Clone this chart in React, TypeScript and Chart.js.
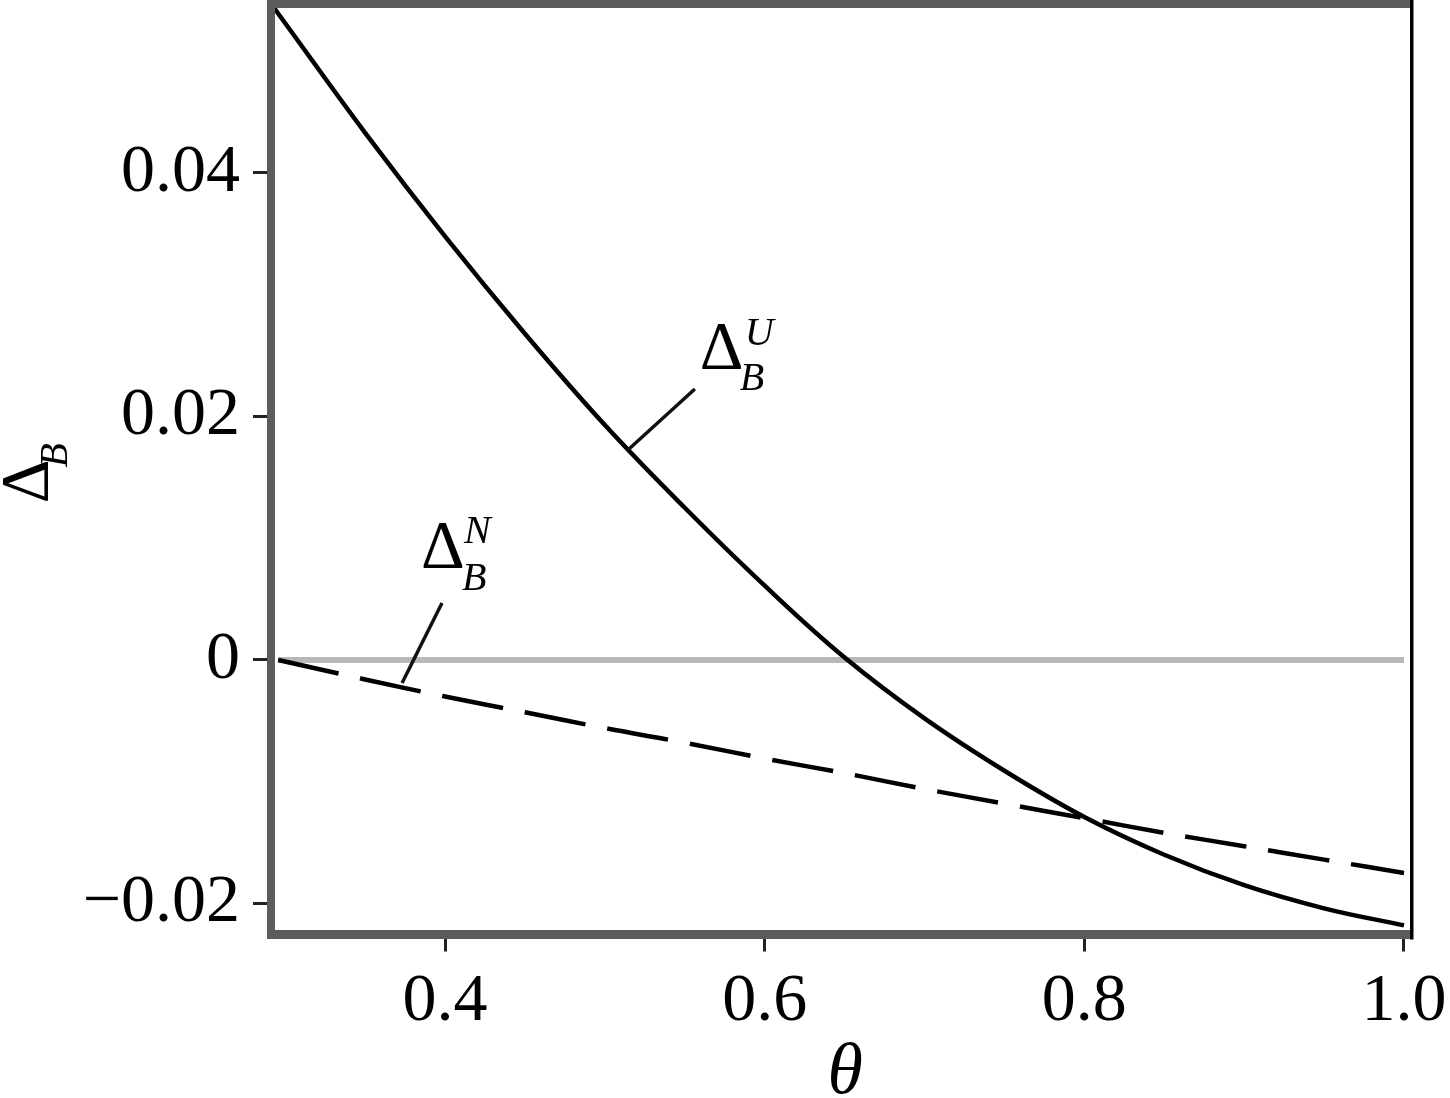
import React, { useEffect, useRef } from "react";
import { Chart, registerables } from "chart.js";
Chart.register(...registerables);

// Solid curve Δ_B^U
const thetaU = [0.2911, 0.3, 0.35, 0.4, 0.45, 0.5, 0.55, 0.6, 0.65, 0.7, 0.75, 0.8, 0.85, 0.9, 0.95, 1.0];
const deltaU = [0.0539, 0.0523, 0.0433, 0.0348, 0.0268, 0.0193, 0.0125, 0.0061, 0.0002, -0.0048, -0.0091, -0.0129, -0.016, -0.0185, -0.0204, -0.0218];
// Dashed curve Δ_B^N
const thetaN = [0.2956, 0.35, 0.4, 0.45, 0.5, 0.55, 0.6, 0.65, 0.7, 0.75, 0.8, 0.85, 0.9, 0.95, 1.0];
const deltaN = [0, -0.0016, -0.003, -0.0043, -0.0056, -0.0068, -0.0081, -0.0093, -0.0106, -0.0118, -0.013, -0.0142, -0.0153, -0.0164, -0.0175];
// Zero reference line
const thetaZero = [0.2956, 1.0];
const deltaZero = [0, 0];

// Axis ticks
const xTickValues = [0.4, 0.6, 0.8, 1.0];
const xTickLabels = ["0.4", "0.6", "0.8", "1.0"];
const yTickValues = [-0.02, 0, 0.02, 0.04];
const yTickLabels = ["\u22120.02", "0", "0.02", "0.04"];

// Annotation leader lines (data coords: [start, end])
const leaderUTheta = [0.5144, 0.5563];
const leaderUDelta = [0.01725, 0.02226];
const leaderNTheta = [0.3731, 0.3981];
const leaderNDelta = [-0.00189, 0.00468];

const SERIF = "'Liberation Serif', 'DejaVu Serif', serif";

const zip = (xs: number[], ys: number[]) => xs.map((x, i) => ({ x, y: ys[i] }));

const decorPlugin = {
  id: "decor",
  afterDatasetsDraw(chart: any) {
    const ctx = chart.ctx as CanvasRenderingContext2D;
    const xs = chart.scales.x;
    const ys = chart.scales.y;
    ctx.save();
    ctx.strokeStyle = "#111";
    ctx.lineWidth = 3.5;
    const drawLeader = (tx: number[], ty: number[]) => {
      ctx.beginPath();
      ctx.moveTo(xs.getPixelForValue(tx[0]), ys.getPixelForValue(ty[0]));
      ctx.lineTo(xs.getPixelForValue(tx[1]), ys.getPixelForValue(ty[1]));
      ctx.stroke();
    };
    drawLeader(leaderUTheta, leaderUDelta);
    drawLeader(leaderNTheta, leaderNDelta);

    ctx.fillStyle = "#000";
    ctx.textBaseline = "alphabetic";
    ctx.textAlign = "left";
    const label = (tx: number, ty: number, sup: string, dx: number[], dy: number[]) => {
      const px = xs.getPixelForValue(tx);
      const py = ys.getPixelForValue(ty);
      ctx.font = `68px ${SERIF}`;
      ctx.fillText("\u0394", px + dx[0], py + dy[0]);
      ctx.font = `italic 40px ${SERIF}`;
      ctx.fillText(sup, px + dx[1], py + dy[1]);
      ctx.fillText("B", px + dx[2], py + dy[2]);
    };
    label(leaderUTheta[1], leaderUDelta[1], "U", [5, 50, 45], [-21, -44, 1]);
    label(leaderNTheta[1], leaderNDelta[1], "N", [-21, 22, 20], [-36, -60, -13]);
    ctx.restore();
  },
  afterDraw(chart: any) {
    const ctx = chart.ctx as CanvasRenderingContext2D;
    const { left, right, top, bottom } = chart.chartArea;
    ctx.save();
    ctx.fillStyle = "#5c5c5c";
    ctx.fillRect(left - 4, 0, 8, bottom + 4.5);
    ctx.fillRect(left - 4, top - 4, right - left + 4, 8);
    ctx.fillRect(left - 4, bottom - 4.5, right - left + 5, 9);
    ctx.fillStyle = "#000";
    ctx.fillRect(right - 1.5, top - 4, 3.5, bottom - top + 9);

    ctx.fillStyle = "#000";
    ctx.font = `italic 72px ${SERIF}`;
    ctx.textAlign = "center";
    ctx.textBaseline = "alphabetic";
    ctx.fillText("\u03B8", (left + right) / 2 + 4, 1093);

    ctx.save();
    ctx.translate(47, (top + bottom) / 2 + 34);
    ctx.rotate(-Math.PI / 2);
    ctx.textAlign = "left";
    ctx.font = `68px ${SERIF}`;
    ctx.fillText("\u0394", 0, 0);
    const w = ctx.measureText("\u0394").width;
    ctx.font = `italic 40px ${SERIF}`;
    ctx.fillText("B", w - 8, 20);
    ctx.restore();
    ctx.restore();
  },
};

const zeroPad = (s: any) => {
  s.paddingTop = 0;
  s.paddingBottom = 0;
  s.paddingLeft = 0;
  s.paddingRight = 0;
};

export default function App() {
  const ref = useRef<HTMLCanvasElement | null>(null);
  useEffect(() => {
    document.body.style.margin = "0";
    if (!ref.current) return;
    const chart = new Chart(ref.current, {
      type: "scatter",
      data: {
        datasets: [
          {
            label: "U",
            data: zip(thetaU, deltaU),
            showLine: true,
            borderColor: "#000",
            borderWidth: 4.5,
            pointRadius: 0,
            tension: 0.4,
            order: 1,
          },
          {
            label: "N",
            data: zip(thetaN, deltaN),
            showLine: true,
            borderColor: "#000",
            borderWidth: 4.5,
            borderDash: [62, 22],
            pointRadius: 0,
            tension: 0.4,
            order: 2,
          },
          {
            label: "zero",
            data: zip(thetaZero, deltaZero),
            showLine: true,
            borderColor: "#b8b8b8",
            borderWidth: 6,
            pointRadius: 0,
            order: 3,
          },
        ],
      } as any,
      options: {
        animation: false,
        responsive: false,
        devicePixelRatio: 1,
        layout: { padding: { top: 4, right: 38.5, left: 0, bottom: 0 } },
        plugins: { legend: { display: false }, tooltip: { enabled: false } },
        scales: {
          x: {
            type: "linear",
            min: 0.2911,
            max: 1.0047,
            afterFit: (s: any) => {
              s.height = 163.5;
              zeroPad(s);
            },
            afterBuildTicks: (s: any) => {
              s.ticks = xTickValues.map((v) => ({ value: v }));
            },
            ticks: {
              callback: (v: any) => {
                const i = xTickValues.findIndex((t) => Math.abs(t - v) < 1e-9);
                return i >= 0 ? xTickLabels[i] : "";
              },
              font: { family: SERIF, size: 68 },
              color: "#000",
              padding: 10,
              maxRotation: 0,
            },
            grid: { drawOnChartArea: false, drawTicks: true, tickLength: 17, tickWidth: 3, tickColor: "#222" },
            border: { display: false },
          },
          y: {
            type: "linear",
            min: -0.02255,
            max: 0.05388,
            afterFit: (s: any) => {
              s.width = 271;
              zeroPad(s);
            },
            afterBuildTicks: (s: any) => {
              s.ticks = yTickValues.map((v) => ({ value: v }));
            },
            ticks: {
              callback: (v: any) => {
                const i = yTickValues.findIndex((t) => Math.abs(t - v) < 1e-9);
                return i >= 0 ? yTickLabels[i] : "";
              },
              font: { family: SERIF, size: 68 },
              color: "#000",
              padding: 13,
            },
            grid: { drawOnChartArea: false, drawTicks: true, tickLength: 18, tickWidth: 3, tickColor: "#222" },
            border: { display: false },
          },
        },
      },
      plugins: [decorPlugin],
    } as any);
    return () => chart.destroy();
  }, []);
  return <canvas ref={ref} width={1450} height={1098} style={{ display: "block", width: 1450, height: 1098 }} />;
}
